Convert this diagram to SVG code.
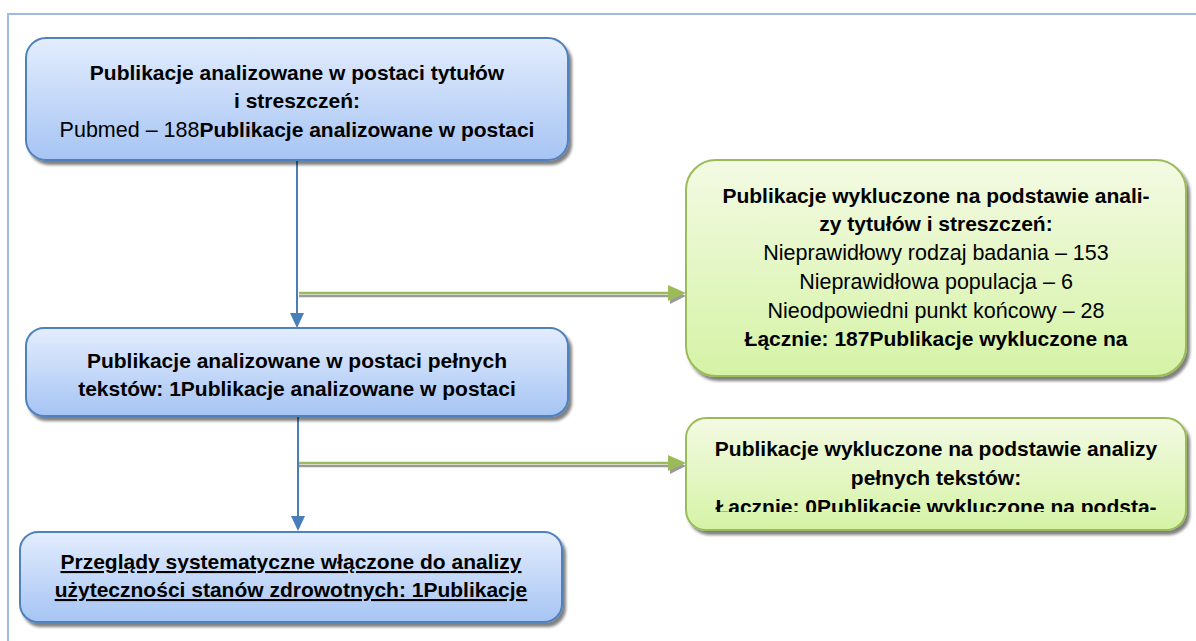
<svg xmlns="http://www.w3.org/2000/svg" width="1196" height="641" viewBox="0 0 1196 641">
<defs>
<linearGradient id="gb" x1="0" y1="0" x2="0" y2="1"><stop offset="0" stop-color="#e3edfd"/><stop offset="1" stop-color="#a6c4f4"/></linearGradient>
<linearGradient id="gg" x1="0" y1="0" x2="0" y2="1"><stop offset="0" stop-color="#f3fae3"/><stop offset="1" stop-color="#d5f3a6"/></linearGradient>
<filter id="sh" x="-5%" y="-5%" width="115%" height="120%"><feGaussianBlur in="SourceAlpha" stdDeviation="1.5"/><feOffset dx="3" dy="4"/><feComponentTransfer><feFuncA type="linear" slope="0.5"/></feComponentTransfer><feMerge><feMergeNode/><feMergeNode in="SourceGraphic"/></feMerge></filter>
<clipPath id="c5"><rect x="686" y="418" width="500" height="94"/></clipPath>
</defs>
<style>
.bb{fill:url(#gb);stroke:#4f81bd;stroke-width:2;filter:url(#sh)}
.gb{fill:url(#gg);stroke:#9bbb59;stroke-width:2;filter:url(#sh)}
text{font-family:"Liberation Sans",Arial,sans-serif;font-size:21.5px;fill:#000;text-anchor:middle}
.b{font-weight:bold;font-size:21px}
.u{text-decoration:underline}
.bl{stroke:#4a7ebb;stroke-width:2;fill:none}
.gl{stroke:#9bbb59;stroke-width:2.5;fill:none}
.sl{stroke:#9a9a9a;stroke-width:2.5;fill:none}
</style>
<path d="M8 641 V14 H1196" fill="none" stroke="#9fbbe0" stroke-width="2"/>
<g id="connectors">
<line class="bl" x1="297" y1="161" x2="297" y2="314"/>
<polygon points="290,313 304,313 297,328" fill="#4a7ebb"/>
<line class="bl" x1="298" y1="417" x2="298" y2="517"/>
<polygon points="291,516 305,516 298,531" fill="#4a7ebb"/>
<line class="sl" x1="299" y1="296" x2="668" y2="296"/>
<polygon points="670,288 686,296 670,304" fill="#9a9a9a"/>
<line class="gl" x1="299" y1="293" x2="668" y2="293"/>
<polygon points="668,285 686,293 668,301" fill="#9bbb59"/>
<line class="sl" x1="299" y1="466" x2="668" y2="466"/>
<polygon points="670,458 686,466 670,474" fill="#9a9a9a"/>
<line class="gl" x1="299" y1="463" x2="668" y2="463"/>
<polygon points="668,455 686,463 668,471" fill="#9bbb59"/>
</g>
<g id="n1">
<rect class="bb" x="26" y="38" width="542" height="122" rx="20"/>
<text x="297" y="80" class="b">Publikacje analizowane w postaci tytułów</text>
<text x="297" y="108" class="b">i streszczeń:</text>
<text x="297" y="137">Pubmed – 188<tspan class="b">Publikacje analizowane w postaci</tspan></text>
</g>
<g id="n2">
<rect class="bb" x="26" y="328" width="542" height="88" rx="18"/>
<text x="297" y="368" class="b">Publikacje analizowane w postaci pełnych</text>
<text x="297" y="396" class="b">tekstów: 1Publikacje analizowane w postaci</text>
</g>
<g id="n3">
<rect class="bb" x="20" y="532" width="542" height="90" rx="18"/>
<text x="291" y="569" class="b u">Przeglądy systematyczne włączone do analizy</text>
<text x="291" y="597" class="b u">użyteczności stanów zdrowotnych: 1Publikacje</text>
</g>
<g id="n4">
<rect class="gb" x="686" y="160" width="500" height="216" rx="30"/>
<text x="936" y="203" class="b">Publikacje wykluczone na podstawie anali-</text>
<text x="936" y="231" class="b">zy tytułów i streszczeń:</text>
<text x="936" y="260">Nieprawidłowy rodzaj badania – 153</text>
<text x="936" y="289">Nieprawidłowa populacja – 6</text>
<text x="936" y="318">Nieodpowiedni punkt końcowy – 28</text>
<text x="936" y="346" class="b">Łącznie: 187Publikacje wykluczone na</text>
</g>
<g id="n5">
<rect class="gb" x="686" y="418" width="500" height="112" rx="20"/>
<g clip-path="url(#c5)">
<text x="936" y="456" class="b">Publikacje wykluczone na podstawie analizy</text>
<text x="936" y="485" class="b">pełnych tekstów:</text>
<text x="936" y="514" class="b">Łącznie: 0Publikacje wykluczone na podsta-</text>
</g>
</g>
</svg>
